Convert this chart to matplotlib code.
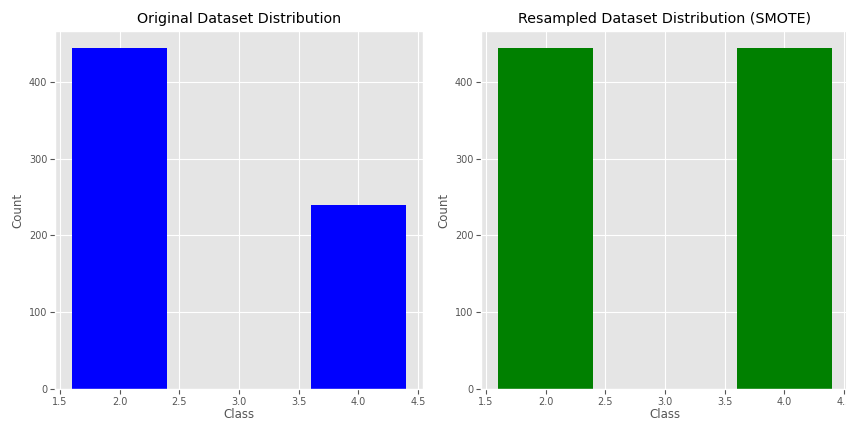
import matplotlib
matplotlib.use("Agg")
import matplotlib.pyplot as plt

plt.style.use("ggplot")

orig_classes = [2, 4]
orig_counts = [444, 239]
res_classes = [2, 4]
res_counts = [444, 444]

fig = plt.figure(figsize=(8.46, 4.23), dpi=100)
ax1 = fig.add_axes([55 / 846, 34 / 423, 368 / 846, 358 / 423])
ax2 = fig.add_axes([481 / 846, 34 / 423, 368 / 846, 358 / 423])

ax1.bar(orig_classes, orig_counts, color="blue")
ax1.set_title("Original Dataset Distribution", fontsize=10.25)
ax1.set_xlabel("Class", fontsize=8.5, labelpad=1)
ax1.set_ylabel("Count", fontsize=8.5, labelpad=3)

ax2.bar(res_classes, res_counts, color="green")
ax2.set_title("Resampled Dataset Distribution (SMOTE)", fontsize=10.25)
ax2.set_xlabel("Class", fontsize=8.5, labelpad=1)
ax2.set_ylabel("Count", fontsize=8.5, labelpad=3)

for ax in (ax1, ax2):
    ax.tick_params(labelsize=7, pad=2)
    ax.set_xticks([1.5, 2.0, 2.5, 3.0, 3.5, 4.0, 4.5])
    ax.set_yticks([0, 100, 200, 300, 400])

fig.savefig("out.png", dpi=100)
